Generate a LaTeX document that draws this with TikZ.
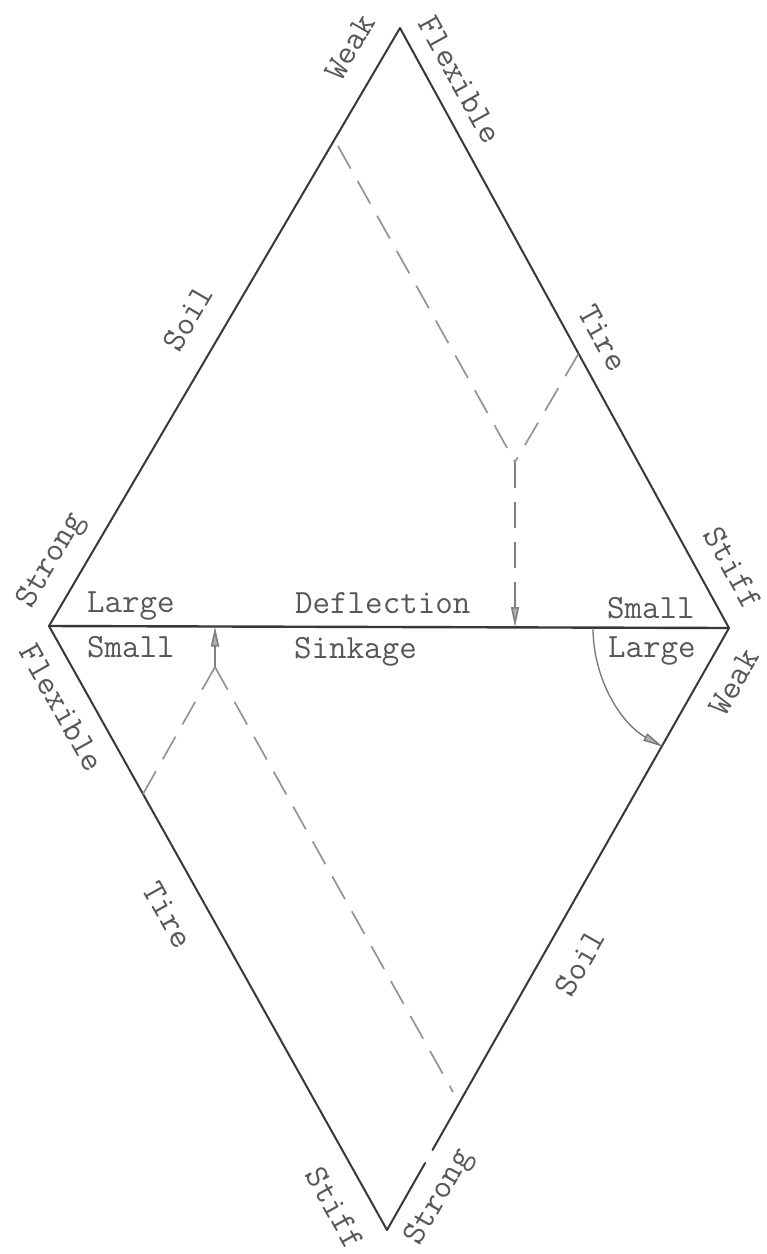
\documentclass[tikz,border=0pt]{standalone}
\usepackage{fontspec}
\setmonofont{Latin Modern Mono}
\usetikzlibrary{arrows.meta}
\tikzset{
  edge/.style={draw=black!78, line width=2pt, line cap=round, line join=round},
  guide/.style={draw=black!42, line width=1.7pt, dash pattern=on 26pt off 14pt},
  tip/.style={-{Triangle[length=20pt,width=8pt,fill=black!30]}},
  lbl/.style={font=\ttfamily\fontsize{34}{40}\selectfont, text=black!66, inner sep=0pt},
}
\begin{document}
\begin{tikzpicture}[x=1pt,y=-1pt]
\useasboundingbox (0,0) rectangle (767,1254);
% vertices
\coordinate (T) at (400,28);
\coordinate (L) at (49,626);
\coordinate (R) at (729,628);
\coordinate (B) at (387,1230);
\coordinate (G1) at (432.5,1150);
\coordinate (G2) at (425.1,1163);
% diamond
\draw[edge] (B) -- (L) -- (T) -- (R) -- (G1);
\draw[edge] (G2) -- (B);
\draw[edge, line width=2.4pt] (L) -- (R);
% upper construction
\coordinate (D1) at (338,146);
\coordinate (E1) at (578.5,353.7);
\coordinate (J1) at (515,462);
\coordinate (A1) at (515,627);
\draw[guide] (D1) -- (J1);
\draw[guide] (E1) -- (J1);
\draw[guide, draw=black!50, tip] (J1) -- (A1);
% lower construction
\coordinate (E2) at (143,794);
\coordinate (J2) at (215,667);
\coordinate (A2) at (215,626.5);
\coordinate (D2) at (453,1092);
\draw[guide] (E2) -- (J2);
\draw[guide] (J2) -- (D2);
\draw[draw=black!50, line width=1.7pt, tip] (J2) -- (A2);
% curved arrow
\coordinate (C1) at (593,628);
\draw[draw=black!55, line width=1.3pt, tip] (C1) arc[start angle=180, end angle=119.2, radius=136];
% horizontal labels
\node[lbl, anchor=base west] (lg1) at (87,612) {Large};
\node[lbl, anchor=base west] (sm1) at (87,657) {Small};
\node[lbl, anchor=base west] (dfl) at (295,613) {Deflection};
\node[lbl, anchor=base west] (snk) at (294,658) {Sinkage};
\node[lbl, anchor=base west] (sm2) at (607,618) {Small};
\node[lbl, anchor=base west] (lg2) at (608,657) {Large};
% edge labels
\node[lbl, rotate=59.6] (wk1) at (350,47) {Weak};
\node[lbl, rotate=-61.2] (fx1) at (460,80) {Flexible};
\node[lbl, rotate=59.6] (so1) at (188,318) {Soil};
\node[lbl, rotate=-61.2] (ti1) at (603,338) {Tire};
\node[lbl, rotate=59.6] (st1) at (52,561) {Strong};
\node[lbl, rotate=-61.2] (sf1) at (733,568) {Stiff};
\node[lbl, rotate=60.4] (wk2) at (734,682) {Weak};
\node[lbl, rotate=-60.8] (fx2) at (62,708) {Flexible};
\node[lbl, rotate=-60.8] (ti2) at (168,915) {Tire};
\node[lbl, rotate=60.4] (so2) at (580,963) {Soil};
\node[lbl, rotate=-60.8] (sf2) at (335,1208) {Stiff};
\node[lbl, rotate=60.4] (st2) at (440,1198) {Strong};
\end{tikzpicture}
\end{document}
